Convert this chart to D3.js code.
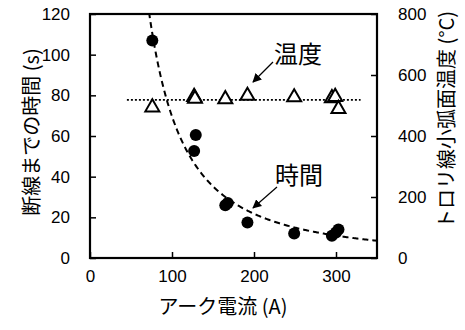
<!DOCTYPE html>
<html>
<head>
<meta charset="utf-8">
<script src="https://cdn.jsdelivr.net/npm/d3@7/dist/d3.min.js"></script>
<style>
  html, body { margin: 0; padding: 0; background: #fff; }
  svg { display: block; }
  text { font-family: "Liberation Sans", Arial, "Noto Sans CJK JP", sans-serif; fill: #000; }
  .jp { font-family: "Noto Sans CJK JP", "Liberation Sans", sans-serif; }
</style>
</head>
<body>
<svg id="chart" width="465" height="330"></svg>
<script>
// Arc current (A) vs. time to wire break (s)
const timeCurrent = [76, 127, 129, 165, 168, 192, 249, 295, 300, 303];
const timeValues  = [107, 52.6, 60.5, 26, 27, 17.5, 12, 11, 12.5, 14];

// Arc current (A) vs. contact-wire arc-surface temperature (°C)
const tempCurrent = [76, 127, 128, 165, 192, 249, 295, 299, 303];
const tempValues  = [494, 528, 522, 521, 532, 527, 524, 528, 489];

// Current span of the mean-temperature guide line
const tempLineRange = [45, 330];

const xTicks = [0, 100, 200, 300];
const yTicks = [0, 20, 40, 60, 80, 100, 120];
const y2Ticks = [0, 200, 400, 600, 800];

const svg = d3.select("#chart");
const m = { left: 90, right: 377, top: 14, bottom: 258 };

const x = d3.scaleLinear().domain([0, 350]).range([m.left, m.right]);
const y = d3.scaleLinear().domain([0, 120]).range([m.bottom, m.top]);
const y2 = d3.scaleLinear().domain([0, 800]).range([m.bottom, m.top]);

// Inward ticks on all axes
const tickLen = 6;
svg.append("g").attr("transform", `translate(0,${m.bottom})`)
  .call(d3.axisBottom(x).tickValues(xTicks).tickSizeInner(-tickLen).tickSizeOuter(0).tickPadding(12))
  .call(g => g.select(".domain").remove())
  .call(g => g.selectAll("line").attr("stroke-width", 1.5))
  .call(g => g.selectAll("text").attr("font-size", 17).attr("dy", "0.71em"));

svg.append("g").attr("transform", `translate(${m.left},0)`)
  .call(d3.axisLeft(y).tickValues(yTicks).tickSizeInner(-tickLen).tickSizeOuter(0).tickPadding(20))
  .call(g => g.select(".domain").remove())
  .call(g => g.selectAll("line").attr("stroke-width", 1.5))
  .call(g => g.selectAll("text").attr("font-size", 17));

svg.append("g").attr("transform", `translate(${m.right},0)`)
  .call(d3.axisRight(y2).tickValues(y2Ticks).tickSizeInner(-tickLen).tickSizeOuter(0).tickPadding(21))
  .call(g => g.select(".domain").remove())
  .call(g => g.selectAll("line").attr("stroke-width", 1.5))
  .call(g => g.selectAll("text").attr("font-size", 17));

// Plot frame
svg.append("rect")
  .attr("x", m.left).attr("y", m.top)
  .attr("width", m.right - m.left).attr("height", m.bottom - m.top)
  .attr("fill", "none").attr("stroke", "#000").attr("stroke-width", 2.2);

// Power-law trend y = a * x^b fitted by least squares in log space
const lx = timeCurrent.map(Math.log), ly = timeValues.map(Math.log);
const mx = d3.mean(lx), my = d3.mean(ly);
const b = d3.sum(lx, (v, i) => (v - mx) * (ly[i] - my)) / d3.sum(lx, v => (v - mx) ** 2);
const a = Math.exp(my - b * mx);
const fitPts = d3.range(60, 350.5, 1).map(c => [c, a * Math.pow(c, b)]).filter(p => p[1] <= 121);

svg.append("defs").append("clipPath").attr("id", "plot")
  .append("rect").attr("x", m.left).attr("y", m.top)
  .attr("width", m.right - m.left).attr("height", m.bottom - m.top);

svg.append("path")
  .datum(fitPts)
  .attr("clip-path", "url(#plot)")
  .attr("fill", "none").attr("stroke", "#000").attr("stroke-width", 2)
  .attr("stroke-dasharray", "6,4")
  .attr("d", d3.line().x(d => x(d[0])).y(d => y(d[1])));

// Mean temperature guide line
const tMean = d3.mean(tempValues);
svg.append("line")
  .attr("x1", x(tempLineRange[0])).attr("x2", x(tempLineRange[1]))
  .attr("y1", y2(tMean)).attr("y2", y2(tMean))
  .attr("stroke", "#000").attr("stroke-width", 1.6).attr("stroke-dasharray", "2,2");

// Time markers
svg.append("g").selectAll("circle")
  .data(timeCurrent.map((c, i) => [c, timeValues[i]]))
  .join("circle")
  .attr("cx", d => x(d[0])).attr("cy", d => y(d[1])).attr("r", 6).attr("fill", "#000");

// Temperature markers
const tri = d3.symbol().type(d3.symbolTriangle).size(85);
svg.append("g").selectAll("path")
  .data(tempCurrent.map((c, i) => [c, tempValues[i]]))
  .join("path")
  .attr("d", tri)
  .attr("transform", d => `translate(${x(d[0])},${y2(d[1])})`)
  .attr("fill", "#fff").attr("stroke", "#000").attr("stroke-width", 2);

// Annotation labels with arrows
svg.append("defs").append("marker")
  .attr("id", "arrow").attr("viewBox", "0 0 10 10").attr("refX", 9).attr("refY", 5)
  .attr("markerWidth", 9).attr("markerHeight", 9).attr("orient", "auto-start-reverse")
  .attr("markerUnits", "userSpaceOnUse")
  .append("path").attr("d", "M0,0 L10,5 L0,10 z").attr("fill", "#000");

const notes = [
  { text: "温度", tx: 298, ty: 52, from: [273, 62], to: [253, 82] },
  { text: "時間", tx: 299, ty: 173, from: [277, 187], to: [253, 208] }
];
notes.forEach(n => {
  svg.append("text").attr("class", "jp")
    .attr("x", n.tx).attr("y", n.ty).attr("text-anchor", "middle").attr("dominant-baseline", "central")
    .attr("font-size", 24).text(n.text);
  svg.append("line")
    .attr("x1", n.from[0]).attr("y1", n.from[1]).attr("x2", n.to[0]).attr("y2", n.to[1])
    .attr("stroke", "#000").attr("stroke-width", 1.2).attr("marker-end", "url(#arrow)");
});

// Axis titles
svg.append("text").attr("class", "jp")
  .attr("x", 223).attr("y", 305).attr("text-anchor", "middle").attr("dominant-baseline", "central")
  .attr("font-size", 20).text("アーク電流 (A)");

svg.append("text").attr("class", "jp")
  .attr("transform", "translate(30,132) rotate(-90)")
  .attr("text-anchor", "middle").attr("dominant-baseline", "central")
  .attr("font-size", 20).text("断線までの時間 (s)");

svg.append("text").attr("class", "jp")
  .attr("transform", "translate(445,120) rotate(-90)")
  .attr("text-anchor", "middle").attr("dominant-baseline", "central")
  .attr("font-size", 20).text("トロリ線小弧面温度 (°C)");
</script>
</body>
</html>
